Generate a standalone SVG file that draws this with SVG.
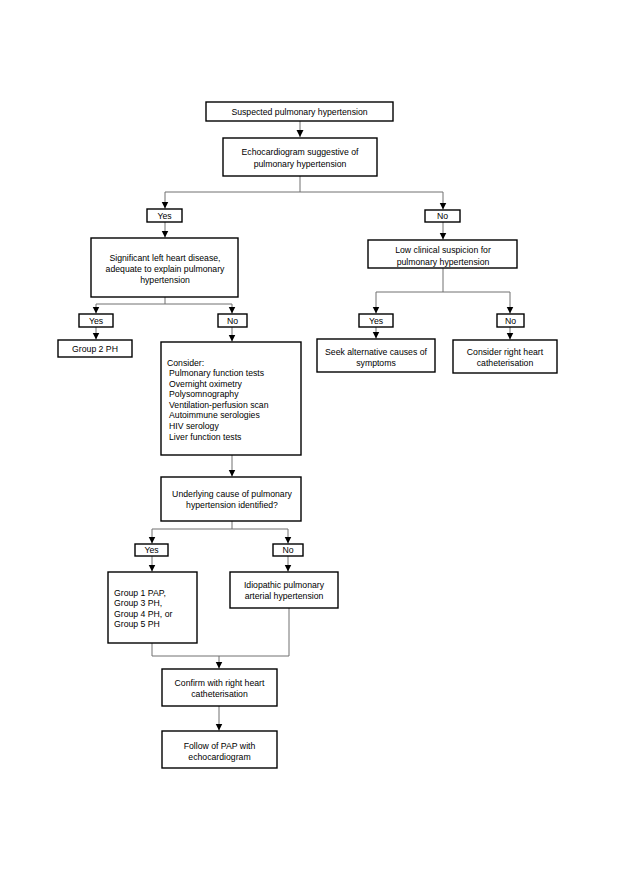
<svg xmlns="http://www.w3.org/2000/svg" width="619" height="876" viewBox="0 0 619 876">
<defs>
<marker id="ah" markerWidth="8" markerHeight="8" refX="7" refY="4" orient="auto" markerUnits="userSpaceOnUse">
<path d="M0,0.5 L7,4 L0,7.5 Z" fill="#000"/>
</marker>
</defs>
<style>
.box{fill:#fff;stroke:#000;stroke-width:1.4}
.t{font-family:"Liberation Sans",Arial,sans-serif;font-size:8.7px;fill:#000}
.c{text-anchor:middle}
.ln{fill:none;stroke:#707070;stroke-width:1}
</style>
<rect width="619" height="876" fill="#fff"/>
<g id="connectors">
<path class="ln" d="M300,121 V137" marker-end="url(#ah)"/>
<path class="ln" d="M300,176 V192 M165,192 H443"/>
<path class="ln" d="M165,192 V208.5" marker-end="url(#ah)"/>
<path class="ln" d="M443,192 V209.5" marker-end="url(#ah)"/>
<path class="ln" d="M165,222 V237.5" marker-end="url(#ah)"/>
<path class="ln" d="M443,222 V239.5" marker-end="url(#ah)"/>
<path class="ln" d="M165,297 V304 M96,304 H232"/>
<path class="ln" d="M96,304 V313.5" marker-end="url(#ah)"/>
<path class="ln" d="M232,304 V313.5" marker-end="url(#ah)"/>
<path class="ln" d="M96,327 V339.5" marker-end="url(#ah)"/>
<path class="ln" d="M232,327 V341.5" marker-end="url(#ah)"/>
<path class="ln" d="M443,268 V292 M376,292 H510"/>
<path class="ln" d="M376,292 V313.5" marker-end="url(#ah)"/>
<path class="ln" d="M510,292 V313.5" marker-end="url(#ah)"/>
<path class="ln" d="M376,327 V338.5" marker-end="url(#ah)"/>
<path class="ln" d="M510,327 V339.5" marker-end="url(#ah)"/>
<path class="ln" d="M232,455 V476.5" marker-end="url(#ah)"/>
<path class="ln" d="M232,521 V529 M152,529 H288"/>
<path class="ln" d="M152,529 V543.5" marker-end="url(#ah)"/>
<path class="ln" d="M288,529 V543.5" marker-end="url(#ah)"/>
<path class="ln" d="M152,556 V571.5" marker-end="url(#ah)"/>
<path class="ln" d="M288,556 V571.5" marker-end="url(#ah)"/>
<path class="ln" d="M152,643 V656 H289 V608"/>
<path class="ln" d="M219,656 V668.5" marker-end="url(#ah)"/>
<path class="ln" d="M219,706 V730.5" marker-end="url(#ah)"/>
</g>
<g id="n-suspected">
<rect class="box" x="206" y="102" width="187" height="19"/>
<text class="t c" x="299.5" y="115">Suspected pulmonary hypertension</text>
</g>
<g id="n-echo">
<rect class="box" x="223" y="138" width="154" height="38"/>
<text class="t c" x="300" y="155">Echocardiogram suggestive of</text>
<text class="t c" x="300" y="166.5">pulmonary hypertension</text>
</g>
<g id="n-yes1">
<rect class="box" x="147" y="209" width="35" height="13"/>
<text class="t c" x="164.5" y="218.8">Yes</text>
</g>
<g id="n-no1">
<rect class="box" x="425" y="210" width="35" height="12"/>
<text class="t c" x="442.5" y="219.3">No</text>
</g>
<g id="n-left-heart">
<rect class="box" x="91" y="238" width="147" height="59"/>
<text class="t c" x="165" y="260.5">Significant left heart disease,</text>
<text class="t c" x="165" y="272">adequate to explain pulmonary</text>
<text class="t c" x="165" y="283">hypertension</text>
</g>
<g id="n-low-suspicion">
<rect class="box" x="368" y="240" width="149" height="28"/>
<text class="t c" x="443" y="253">Low clinical suspicion for</text>
<text class="t c" x="443" y="265">pulmonary hypertension</text>
</g>
<g id="n-yes2">
<rect class="box" x="79" y="314" width="34" height="13"/>
<text class="t c" x="96" y="324">Yes</text>
</g>
<g id="n-no2">
<rect class="box" x="218" y="314" width="29" height="13"/>
<text class="t c" x="232.5" y="324">No</text>
</g>
<g id="n-yes3">
<rect class="box" x="359" y="314" width="34" height="13"/>
<text class="t c" x="376" y="324">Yes</text>
</g>
<g id="n-no3">
<rect class="box" x="497" y="314" width="27" height="13"/>
<text class="t c" x="510.5" y="324">No</text>
</g>
<g id="n-group2">
<rect class="box" x="58" y="340" width="74" height="17"/>
<text class="t c" x="95" y="352.3">Group 2 PH</text>
</g>
<g id="n-seek">
<rect class="box" x="317" y="339" width="118" height="33"/>
<text class="t c" x="376" y="354.5">Seek alternative causes of</text>
<text class="t c" x="376" y="366">symptoms</text>
</g>
<g id="n-consider-rhc">
<rect class="box" x="453" y="340" width="104" height="33"/>
<text class="t c" x="505" y="354.5">Consider right heart</text>
<text class="t c" x="505" y="366">catheterisation</text>
</g>
<g id="n-consider">
<rect class="box" x="161" y="342" width="140" height="113"/>
<text class="t" x="167" y="365.5">Consider:</text>
<text class="t" x="169" y="376">Pulmonary function tests</text>
<text class="t" x="169" y="386.6">Overnight oximetry</text>
<text class="t" x="169" y="397.2">Polysomnography</text>
<text class="t" x="169" y="407.8">Ventilation-perfusion scan</text>
<text class="t" x="169" y="418.4">Autoimmune serologies</text>
<text class="t" x="169" y="429">HIV serology</text>
<text class="t" x="169" y="439.6">Liver function tests</text>
</g>
<g id="n-underlying">
<rect class="box" x="161" y="477" width="140" height="44"/>
<text class="t c" x="232" y="497">Underlying cause of pulmonary</text>
<text class="t c" x="232" y="507.8">hypertension identified?</text>
</g>
<g id="n-yes4">
<rect class="box" x="135" y="544" width="33" height="12"/>
<text class="t c" x="151.5" y="553.3">Yes</text>
</g>
<g id="n-no4">
<rect class="box" x="273" y="544" width="30" height="12"/>
<text class="t c" x="288" y="553.3">No</text>
</g>
<g id="n-group1">
<rect class="box" x="108" y="572" width="89" height="71"/>
<text class="t" x="114" y="595.5">Group 1 PAP,</text>
<text class="t" x="114" y="606">Group 3 PH,</text>
<text class="t" x="114" y="616.5">Group 4 PH, or</text>
<text class="t" x="114" y="627">Group 5 PH</text>
</g>
<g id="n-idiopathic">
<rect class="box" x="230" y="572" width="108" height="36"/>
<text class="t c" x="284" y="587.5">Idiopathic pulmonary</text>
<text class="t c" x="284" y="599">arterial hypertension</text>
</g>
<g id="n-confirm">
<rect class="box" x="162" y="669" width="115" height="37"/>
<text class="t c" x="219.5" y="686">Confirm with right heart</text>
<text class="t c" x="219.5" y="697">catheterisation</text>
</g>
<g id="n-follow">
<rect class="box" x="162" y="731" width="115" height="37"/>
<text class="t c" x="219.5" y="748.5">Follow of PAP with</text>
<text class="t c" x="219.5" y="759.5">echocardiogram</text>
</g>
</svg>
